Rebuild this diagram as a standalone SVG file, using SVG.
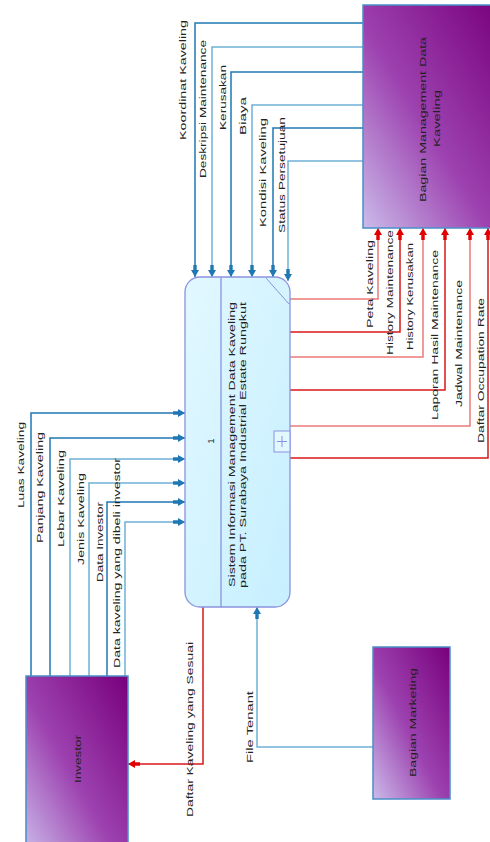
<svg xmlns="http://www.w3.org/2000/svg" width="490" height="842" viewBox="0 0 490 842">
<defs>
<linearGradient id="purp" x1="0" y1="1" x2="1" y2="0">
<stop offset="0" stop-color="#cbbbea"/>
<stop offset="0.45" stop-color="#9d42b0"/>
<stop offset="1" stop-color="#78007c"/>
</linearGradient>
<linearGradient id="cyan" x1="0" y1="0" x2="1" y2="1">
<stop offset="0" stop-color="#e2f8ff"/>
<stop offset="1" stop-color="#c6efff"/>
</linearGradient>
<marker id="ab" viewBox="0 0 12 8" refX="12" refY="4" markerWidth="12" markerHeight="8" markerUnits="userSpaceOnUse" orient="auto">
<path d="M0,2.3 H5 V0 L12,4 L5,8 V5.7 H0 z" fill="#1f78b4"/>
</marker>
<marker id="ar" viewBox="0 0 12 8" refX="12" refY="4" markerWidth="12" markerHeight="8" markerUnits="userSpaceOnUse" orient="auto">
<path d="M0,2.3 H5 V0 L12,4 L5,8 V5.7 H0 z" fill="#e00000"/>
</marker>
</defs>
<style>
text { font-family: "Liberation Sans", Arial, sans-serif; font-size: 9.5px; fill: #222; }
.ent { fill: url(#purp); stroke: #4a8fc8; stroke-width: 1.5; }
.proc { fill: url(#cyan); stroke: #8a92e0; stroke-width: 1.3; }
.bd { fill: none; stroke: #1f78b4; stroke-width: 1.5; }
.bl { fill: none; stroke: #6fb0d8; stroke-width: 1.5; }
.rd { fill: none; stroke: #d81818; stroke-width: 1.5; }
.rl { fill: none; stroke: #ec7a7a; stroke-width: 1.5; }
</style>

<g id="connectors">
<path class="bd" d="M363,23 H195 V277" marker-end="url(#ab)"/>
<path class="bl" d="M363,47 H212 V277" marker-end="url(#ab)"/>
<path class="bd" d="M363,72 H231 V277" marker-end="url(#ab)"/>
<path class="bl" d="M363,105 H252 V277" marker-end="url(#ab)"/>
<path class="bd" d="M363,128 H273 V277" marker-end="url(#ab)"/>
<path class="bl" d="M363,161 H288 V281" marker-end="url(#ab)"/>

<path class="bd" d="M31,676 V413 H185" marker-end="url(#ab)"/>
<path class="bd" d="M50,676 V438 H185" marker-end="url(#ab)"/>
<path class="bl" d="M70,676 V459 H185" marker-end="url(#ab)"/>
<path class="bl" d="M89,676 V483 H185" marker-end="url(#ab)"/>
<path class="bd" d="M107,676 V502 H185" marker-end="url(#ab)"/>
<path class="bl" d="M125,676 V522 H185" marker-end="url(#ab)"/>

<path class="rl" d="M290,299 H378 V228" marker-end="url(#ar)"/>
<path class="rd" d="M290,332 H400 V228" marker-end="url(#ar)"/>
<path class="rl" d="M290,357 H423 V228" marker-end="url(#ar)"/>
<path class="rd" d="M290,390 H445 V228" marker-end="url(#ar)"/>
<path class="rl" d="M290,426 H470 V228" marker-end="url(#ar)"/>
<path class="rd" d="M290,458 H488 V228" marker-end="url(#ar)"/>

<path class="rd" d="M203,607 V764 H128" marker-end="url(#ar)"/>
<path class="bl" d="M373,747 H257 V607" marker-end="url(#ab)"/>

<text transform="translate(186,140) rotate(-90)" textLength="120" lengthAdjust="spacingAndGlyphs">Koordinat Kaveling</text>
<text transform="translate(206,178) rotate(-90)" textLength="138" lengthAdjust="spacingAndGlyphs">Deskripsi Maintenance</text>
<text transform="translate(225.5,130) rotate(-90)" textLength="65" lengthAdjust="spacingAndGlyphs">Kerusakan</text>
<text transform="translate(245.5,135) rotate(-90)" textLength="38" lengthAdjust="spacingAndGlyphs">Biaya</text>
<text transform="translate(265.5,227) rotate(-90)" textLength="109" lengthAdjust="spacingAndGlyphs">Kondisi Kaveling</text>
<text transform="translate(284.5,233) rotate(-90)" textLength="116" lengthAdjust="spacingAndGlyphs">Status Persetujuan</text>

<text transform="translate(23.5,508) rotate(-90)" textLength="86" lengthAdjust="spacingAndGlyphs">Luas Kaveling</text>
<text transform="translate(42.5,543) rotate(-90)" textLength="111" lengthAdjust="spacingAndGlyphs">Panjang Kaveling</text>
<text transform="translate(64,547) rotate(-90)" textLength="97" lengthAdjust="spacingAndGlyphs">Lebar Kaveling</text>
<text transform="translate(83.5,565) rotate(-90)" textLength="92" lengthAdjust="spacingAndGlyphs">Jenis Kaveling</text>
<text transform="translate(102.5,582) rotate(-90)" textLength="80" lengthAdjust="spacingAndGlyphs">Data Investor</text>
<text transform="translate(119.5,668) rotate(-90)" textLength="210" lengthAdjust="spacingAndGlyphs">Data kaveling yang dibeli investor</text>

<text transform="translate(372.5,328) rotate(-90)" textLength="88" lengthAdjust="spacingAndGlyphs">Peta Kaveling</text>
<text transform="translate(392.5,355) rotate(-90)" textLength="125" lengthAdjust="spacingAndGlyphs">History Maintenance</text>
<text transform="translate(412.5,350) rotate(-90)" textLength="107" lengthAdjust="spacingAndGlyphs">History Kerusakan</text>
<text transform="translate(437.5,420) rotate(-90)" textLength="170" lengthAdjust="spacingAndGlyphs">Laporan Hasil Maintenance</text>
<text transform="translate(461.5,407) rotate(-90)" textLength="127" lengthAdjust="spacingAndGlyphs">Jadwal Maintenance</text>
<text transform="translate(483.5,443) rotate(-90)" textLength="145" lengthAdjust="spacingAndGlyphs">Daftar Occupation Rate</text>

<text transform="translate(192.5,817) rotate(-90)" textLength="175" lengthAdjust="spacingAndGlyphs">Daftar Kaveling yang Sesuai</text>
<text transform="translate(252.5,763) rotate(-90)" textLength="72" lengthAdjust="spacingAndGlyphs">File Tenant</text>
</g>

<g id="process-1">
<rect class="proc" x="185" y="277" width="105" height="330" rx="15" ry="15"/>
<line x1="221" y1="277" x2="221" y2="607" stroke="#8a92e0" stroke-width="1.3"/>
<line x1="266" y1="278" x2="289" y2="304" stroke="#8a92e0" stroke-width="1"/>
<rect x="274" y="431" width="16" height="21" fill="#e2f8ff" stroke="#8a92e0" stroke-width="1"/>
<line x1="282" y1="436" x2="282" y2="447" stroke="#8a92e0" stroke-width="1"/>
<line x1="277" y1="441.5" x2="287" y2="441.5" stroke="#8a92e0" stroke-width="1"/>
<text transform="translate(213.5,441) rotate(-90)" text-anchor="middle">1</text>
<text transform="translate(234.5,587) rotate(-90)" textLength="285" lengthAdjust="spacingAndGlyphs">Sistem Informasi Management Data Kaveling</text>
<text transform="translate(246,588) rotate(-90)" textLength="286" lengthAdjust="spacingAndGlyphs">pada PT. Surabaya Industrial Estate Rungkut</text>
</g>

<g id="bagian-management">
<rect class="ent" x="363" y="5" width="140" height="223"/>
<text transform="translate(425.5,202) rotate(-90)" textLength="165" lengthAdjust="spacingAndGlyphs">Bagian Management Data</text>
<text transform="translate(439.5,147) rotate(-90)" textLength="57" lengthAdjust="spacingAndGlyphs">Kaveling</text>
</g>

<g id="investor">
<rect class="ent" x="26" y="676" width="102" height="180"/>
<text transform="translate(80.5,783) rotate(-90)" textLength="48" lengthAdjust="spacingAndGlyphs">Investor</text>
</g>

<g id="bagian-marketing">
<rect class="ent" x="373" y="647" width="77" height="152"/>
<text transform="translate(415.5,777) rotate(-90)" textLength="109" lengthAdjust="spacingAndGlyphs">Bagian Marketing</text>
</g>
</svg>
